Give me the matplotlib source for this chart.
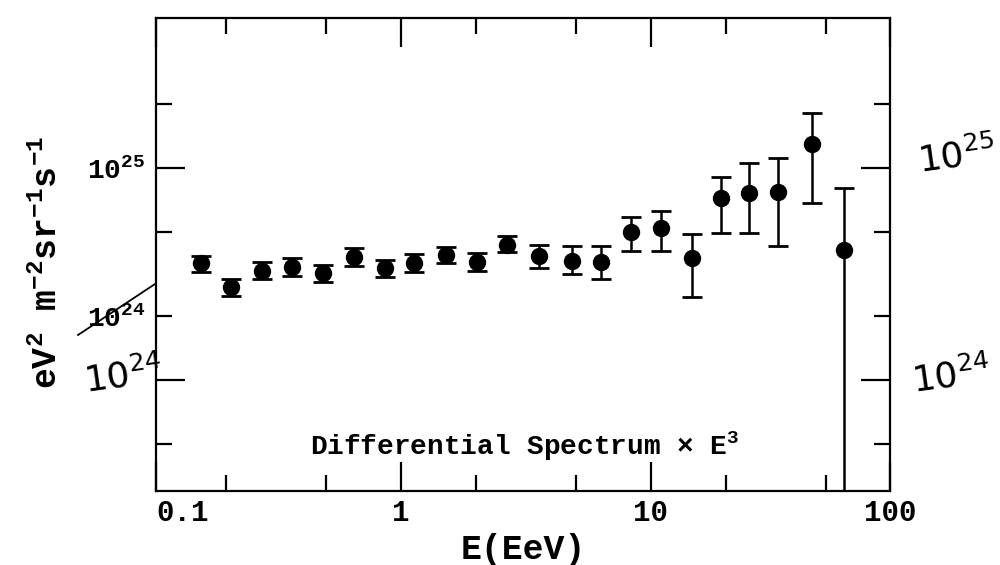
import matplotlib
matplotlib.use("Agg")
import matplotlib.pyplot as plt
import numpy as np
from matplotlib.lines import Line2D
from matplotlib.ticker import FixedLocator, FixedFormatter, NullFormatter

plt.rcParams['font.family'] = ['Liberation Mono', 'DejaVu Sans Mono']
plt.rcParams['font.weight'] = 'normal'
plt.rcParams['mathtext.fontset'] = 'custom'
plt.rcParams['mathtext.rm'] = 'Liberation Mono:bold'
plt.rcParams['mathtext.it'] = 'Liberation Mono:bold'
plt.rcParams['mathtext.bf'] = 'Liberation Mono:bold'

# energy bins (EeV) and E^3-weighted flux (eV^2 m^-2 sr^-1 s^-1)
energy = [0.158, 0.209, 0.278, 0.366, 0.488, 0.649, 0.863, 1.13, 1.51, 2.01, 2.66,
          3.57, 4.83, 6.31, 8.32, 11.0, 14.6, 19.1, 24.7, 32.2, 44.1, 59.2]
flux = [3.56e24, 2.75e24, 3.27e24, 3.41e24, 3.20e24, 3.80e24, 3.38e24, 3.56e24,
        3.89e24, 3.60e24, 4.33e24, 3.85e24, 3.64e24, 3.60e24, 4.99e24, 5.21e24,
        3.76e24, 7.22e24, 7.62e24, 7.70e24, 1.30e25, 4.10e24]
flux_hi = [3.85e24, 2.99e24, 3.60e24, 3.76e24, 3.49e24, 4.19e24, 3.68e24, 3.93e24,
           4.24e24, 3.97e24, 4.78e24, 4.33e24, 4.29e24, 4.29e24, 5.87e24, 6.27e24,
           4.88e24, 9.07e24, 1.056e25, 1.11e25, 1.82e25, 8.05e24]
flux_lo = [3.23e24, 2.49e24, 2.99e24, 3.10e24, 2.90e24, 3.45e24, 3.06e24, 3.23e24,
           3.56e24, 3.27e24, 4.02e24, 3.38e24, 3.16e24, 2.99e24, 4.06e24, 4.06e24,
           2.46e24, 4.94e24, 4.94e24, 4.29e24, 6.84e24, 1e23]

x_major = [0.1047, 1, 10, 90.4]
x_major_labels = ['0.1', '1', '10', '100']
x_minor = [0.2, 0.5, 2, 5, 20, 50]
y_major = [1e24, 1e25]
y_major_labels = ['', '$10^{25}$']
y_minor = [5e23, 2e24, 5e24, 2e25]
y_minor_labels = ['', '$10^{24}$', '', '']

fig = plt.figure(figsize=(10, 5.65), dpi=100)
ax = fig.add_axes([0.156, 0.131, 0.734, 0.837])

f = np.array(flux)
yerr = [f - np.array(flux_lo), np.array(flux_hi) - f]
ax.errorbar(energy, flux, yerr=yerr, fmt='o', color='black', markersize=11.5,
            elinewidth=1.8, capsize=7, capthick=2)

ax.set_xscale('log')
ax.set_yscale('log')
ax.set_xlim(0.1047, 90.4)
ax.set_ylim(3e23, 5.1e25)

ax.xaxis.set_major_locator(FixedLocator(x_major))
ax.xaxis.set_major_formatter(FixedFormatter(x_major_labels))
ax.xaxis.set_minor_locator(FixedLocator(x_minor))
ax.xaxis.set_minor_formatter(NullFormatter())
ax.yaxis.set_major_locator(FixedLocator(y_major))
ax.yaxis.set_major_formatter(FixedFormatter(y_major_labels))
ax.yaxis.set_minor_locator(FixedLocator(y_minor))
ax.yaxis.set_minor_formatter(FixedFormatter(y_minor_labels))

ax.tick_params(which='both', direction='in', top=True, right=True, width=1.6, color='black')
ax.tick_params(which='major', length=21)
ax.tick_params(which='minor', length=11.5)
ax.tick_params(axis='x', which='major', labelsize=21, pad=6)
ax.tick_params(axis='y', which='both', labelsize=20, pad=8)
for sp in ax.spines.values():
    sp.set_linewidth(1.6)
for lab in ax.get_xticklabels():
    lab.set_fontweight('bold')
ax.get_xticklabels()[0].set_ha('left')

ax.set_xlabel('E(EeV)', fontsize=25, fontweight='bold', labelpad=4)
ax.set_ylabel('eV$^2$ m$^{-2}$sr$^{-1}$s$^{-1}$', fontsize=25, fontweight='bold')
ax.yaxis.set_label_coords(-0.126, 0.484)

ax.text(0.21, 0.095, r'Differential Spectrum $\times$ E$^3$', transform=ax.transAxes,
        fontsize=20, fontweight='bold', ha='left', va='center')

# handwritten corrections on the scan
hand = dict(math_fontfamily='dejavusans', fontsize=26, color='black')
fig.text(0.082, 1 - 392 / 565, r'$\mathit{10^{24}}$', rotation=8, **hand)
fig.text(0.916, 1 - 172 / 565, r'$\mathit{10^{25}}$', rotation=8, **hand)
fig.text(0.910, 1 - 392 / 565, r'$\mathit{10^{24}}$', rotation=8, **hand)
fig.add_artist(Line2D([0.078, 0.155], [1 - 335 / 565, 1 - 284 / 565],
                      transform=fig.transFigure, color='black', lw=1.3))

fig.savefig('out.png', dpi=100)
